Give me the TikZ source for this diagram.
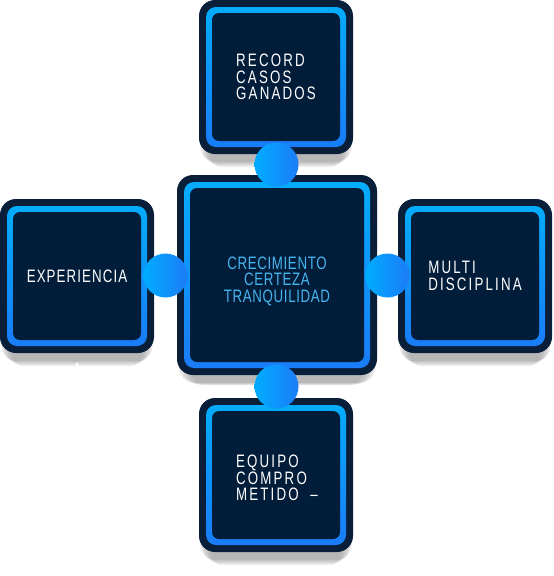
\documentclass[tikz,border=0pt]{standalone}
\usepackage{fontspec}
\setmainfont{Liberation Sans}
\newfontfamily\fwide{Liberation Sans}[FakeStretch=0.74,LetterSpace=12]
\newfontfamily\fmid{Liberation Sans}[FakeStretch=0.74,LetterSpace=6]
\newfontfamily\fctr{Liberation Sans}[FakeStretch=0.74,LetterSpace=3.5]
\usetikzlibrary{calc,shadows}
\definecolor{navyout}{RGB}{9,30,56}
\definecolor{navyin}{RGB}{2,29,58}
\definecolor{ringtop}{RGB}{4,174,252}
\definecolor{ringbot}{RGB}{26,122,248}
\definecolor{dotl}{RGB}{0,172,255}
\definecolor{dotr}{RGB}{28,124,248}
\definecolor{ctrtxt}{RGB}{70,180,238}
\tikzset{
  card/.style={rounded corners=16pt, fill=navyout, minimum width=#1, minimum height=#1,
    inner sep=0pt, text=white, align=left,
    general shadow={fill=black, opacity=.10, shadow yshift=-10pt, shadow scale=.98},
    general shadow={fill=black, opacity=.09, shadow yshift=-16pt, shadow scale=.94},
    general shadow={fill=black, opacity=.07, shadow yshift=-22pt, shadow scale=.90},
    general shadow={fill=black, opacity=.05, shadow yshift=-28pt, shadow scale=.86},
    path picture={
      \shade[top color=ringtop,bottom color=ringbot,rounded corners=10pt]
        ($(path picture bounding box.south west)+(7pt,7pt)$) rectangle
        ($(path picture bounding box.north east)+(-7pt,-7pt)$);
      \fill[navyin,rounded corners=7pt]
        ($(path picture bounding box.south west)+(13pt,13pt)$) rectangle
        ($(path picture bounding box.north east)+(-13pt,-13pt)$);
    }},
  widetext/.style={font=\fwide\fontsize{18pt}{16.5pt}\selectfont},
  midtext/.style={font=\fmid\fontsize{18pt}{16.5pt}\selectfont},
  ctrtext/.style={font=\fctr\fontsize{18pt}{16.5pt}\selectfont, text=ctrtxt, align=center},
  dot/.style={circle, minimum size=44pt, inner sep=0pt, left color=dotl, right color=dotr}
}
\begin{document}
\begin{tikzpicture}[x=1pt,y=-1pt]
\useasboundingbox (0,0) rectangle (554,576);
\node[card=154pt, widetext] (top) at (276,77) {RECORD\\CASOS\\GANADOS};
\node[card=154pt, midtext] (left) at (77,276) {EXPERIENCIA};
\node[card=154pt, widetext] (right) at (475,276) {MULTI\\DISCIPLINA};
\node[card=154pt] (bot) at (276,475) {};
\node[widetext, text=white, align=left] (bottext) at (277,478) {EQUIPO\\COMPRO\\METIDO\ \ –};
\node[card=200pt] (c) at (277,275) {};
\node[ctrtext] (ctext) at (277,281) {CRECIMIENTO\\CERTEZA\\TRANQUILIDAD};
\node[dot] (dt) at ($(top.south)!.5!(c.north)$) {};
\node[dot] (dl) at ($(left.east)!.5!(c.west)$) {};
\node[dot] (dr) at ($(right.west)!.5!(c.east)$) {};
\node[dot] (db) at ($(bot.north)!.5!(c.south)$) {};
\fill[white] (75,366) -- (79,366) -- (77,362) -- cycle;
\end{tikzpicture}
\end{document}
